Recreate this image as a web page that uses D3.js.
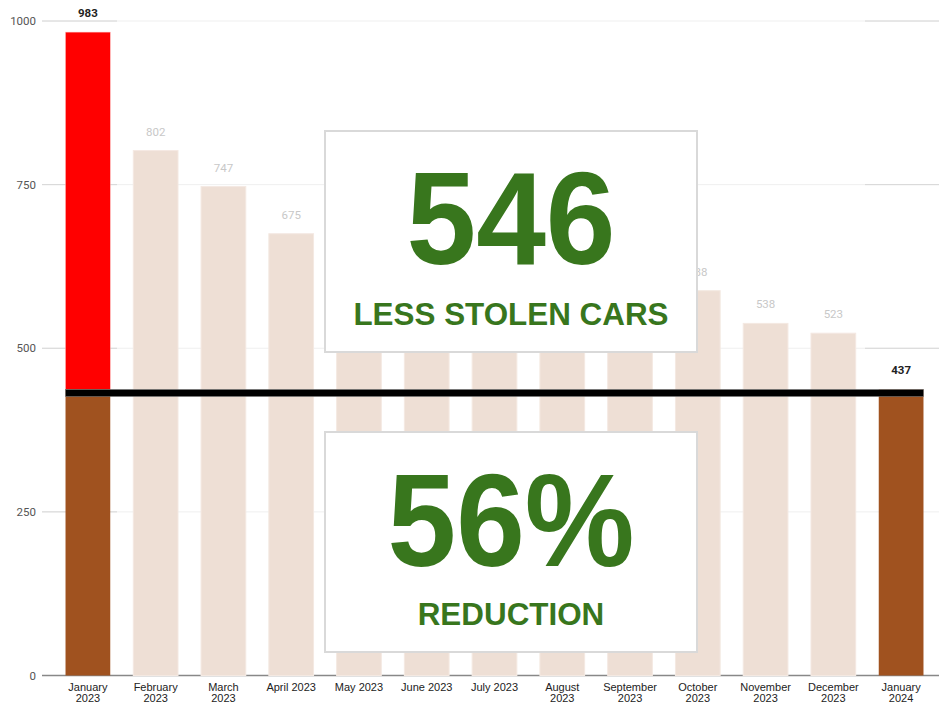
<!DOCTYPE html>
<html><head><meta charset="utf-8">
<script src="https://cdn.jsdelivr.net/npm/d3@7"></script>
<style>body{margin:0;background:#fff}svg{display:block}</style>
</head><body><svg id="c" width="939" height="704"></svg>
<script>
const categories = ["January 2023","February 2023","March 2023","April 2023","May 2023","June 2023","July 2023","August 2023","September 2023","October 2023","November 2023","December 2023","January 2024"];
const labelLines = [["January","2023"],["February","2023"],["March","2023"],["April 2023"],["May 2023"],["June 2023"],["July 2023"],["August","2023"],["September","2023"],["October","2023"],["November","2023"],["December","2023"],["January","2024"]];
const values = [983,802,747,675,640,615,603,598,592,588,538,523,437];
// value labels of May–September are covered by the callout box in the reference
const showValueLabel = [true,true,true,true,false,false,false,false,false,true,true,true,true];
const yTicks = [0,250,500,750,1000];
const referenceValue = 437;
const headline1 = "546", sub1 = "LESS STOLEN CARS";
const headline2 = "56%", sub2 = "REDUCTION";

const svg = d3.select("#c");
const font = "Roboto, Arial, sans-serif";
const x = d3.scaleBand().domain(categories).range([54,935]).paddingInner(0.34).paddingOuter(0.17);
const y = d3.scaleLinear().domain([0,1000]).range([675.5,21]);

// grid
const g = svg.append("g");
yTicks.forEach(t=>{
  g.append("line").attr("x1",42).attr("x2",939).attr("y1",y(t)).attr("y2",y(t))
   .attr("stroke", t===0 ? "#888" : "#efefef").attr("stroke-width", t===0?1.5:1);
  if(t>0){
    g.append("line").attr("x1",42).attr("x2",117).attr("y1",y(t)).attr("y2",y(t)).attr("stroke","#d6d6d6");
    if(t>=500) g.append("line").attr("x1",865).attr("x2",939).attr("y1",y(t)).attr("y2",y(t)).attr("stroke","#d6d6d6");
  }
  g.append("text").attr("x",36).attr("y",y(t)+4).attr("text-anchor","end")
   .attr("font-family",font).attr("font-size",11.5).attr("fill","#555").text(t);
});

// bars
const last = categories.length-1;
categories.forEach((c,i)=>{
  const v = values[i];
  const bx = x(c), bw = x.bandwidth();
  if(i===0){
    svg.append("rect").attr("x",bx).attr("width",bw).attr("y",y(v)).attr("height",y(referenceValue)-y(v)).attr("fill","#ff0000").attr("stroke","#ffb3b3").attr("stroke-width",0.5);
    svg.append("rect").attr("x",bx).attr("width",bw).attr("y",y(referenceValue)).attr("height",y(0)-y(referenceValue)).attr("fill","#a0521f");
  } else if(i===last){
    svg.append("rect").attr("x",bx).attr("width",bw).attr("y",y(v)).attr("height",y(0)-y(v)).attr("fill","#a0521f");
  } else {
    svg.append("rect").attr("x",bx).attr("width",bw).attr("y",y(v)).attr("height",y(0)-y(v)).attr("fill","#eedfd5").attr("stroke","#f4e9e2").attr("stroke-width",1);
  }
  const strong = (i===0||i===last);
  if(showValueLabel[i]){
    svg.append("text").attr("x",bx+bw/2).attr("y",y(v)-15).attr("text-anchor","middle")
      .attr("font-family",font).attr("font-size",11.5).attr("font-weight",strong?"bold":"normal")
      .attr("fill",strong?"#222":"#c8c8c8").text(v);
  }
  const lines = labelLines[i];
  lines.forEach((l,k)=>{
    svg.append("text").attr("x",bx+bw/2).attr("y",691+k*11).attr("text-anchor","middle")
      .attr("font-family","Arial, 'Liberation Sans', sans-serif").attr("font-size",11).attr("fill","#222").text(l);
  });
});

// reference line
const lx1 = x(categories[0]), lx2 = x(categories[last])+x.bandwidth();
svg.append("rect").attr("x",lx1).attr("width",lx2-lx1).attr("y",y(referenceValue)).attr("height",7).attr("fill","#000").attr("stroke","#777").attr("stroke-width",0.6);

// boxes
function box(x0,y0,w,h,big,small,bigBase,smallBase,bigScale){
  svg.append("rect").attr("x",x0).attr("y",y0).attr("width",w).attr("height",h).attr("fill","#fff").attr("stroke","#d9d9d9").attr("stroke-width",2);
  svg.append("text").attr("transform",`translate(${x0+w/2},${bigBase}) scale(${bigScale},1)`).attr("text-anchor","middle")
    .attr("font-family","Arial, 'Liberation Sans', sans-serif").attr("font-weight","bold").attr("font-size",132).attr("fill","#38761d").text(big);
  svg.append("text").attr("x",x0+w/2).attr("y",smallBase).attr("text-anchor","middle")
    .attr("font-family","Arial, 'Liberation Sans', sans-serif").attr("font-weight","bold").attr("font-size",31.4).attr("fill","#38761d").text(small);
}
box(325,131,372,221,headline1,sub1,264,325,0.95);
box(325,432,372,220,headline2,sub2,566,625,0.935);
</script></body></html>
